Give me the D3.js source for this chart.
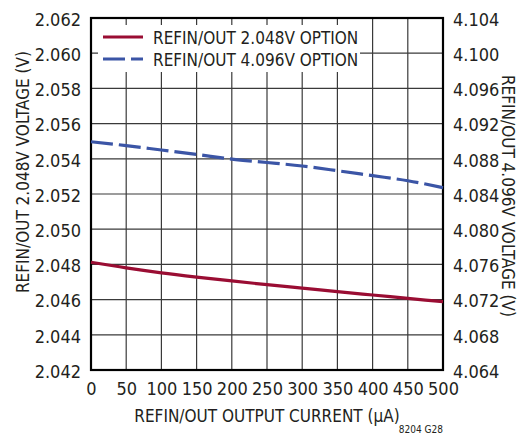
<!DOCTYPE html>
<html>
<head>
<meta charset="utf-8">
<script src="https://cdn.jsdelivr.net/npm/d3@7"></script>
<style>
  body { margin: 0; background: #fff; }
  text { font-family: "Liberation Sans Narrow", "DejaVu Sans Condensed", sans-serif; fill: #231f20; }
</style>
</head>
<body>
<div id="chart"></div>
<script>
// output current (uA)
const current = [0, 50, 100, 150, 200, 250, 300, 350, 400, 450, 500];
// REFIN/OUT 2.048V option (left axis)
const ref2048 = [2.04812, 2.04780, 2.04752, 2.04728, 2.04706, 2.04685, 2.04665, 2.04645, 2.04626, 2.04607, 2.04588];
// REFIN/OUT 4.096V option (right axis)
const ref4096 = [4.08994, 4.08950, 4.08900, 4.08850, 4.08796, 4.08758, 4.08718, 4.08665, 4.08608, 4.08551, 4.08472];

const xTicks = [0, 50, 100, 150, 200, 250, 300, 350, 400, 450, 500];
const leftTicks = [2.042, 2.044, 2.046, 2.048, 2.050, 2.052, 2.054, 2.056, 2.058, 2.060, 2.062];
const rightTicks = [4.064, 4.068, 4.072, 4.076, 4.080, 4.084, 4.088, 4.092, 4.096, 4.100, 4.104];

const W = 521, H = 436;
const margin = { top: 18, right: 78, bottom: 66, left: 91 };
const width = W - margin.left - margin.right;
const height = H - margin.top - margin.bottom;

const svg = d3.select('#chart').append('svg')
  .attr('width', W)
  .attr('height', H);

const g = svg.append('g')
  .attr('transform', `translate(${margin.left},${margin.top})`);

const x = d3.scaleLinear().domain([0, 500]).range([0, width]);
const yL = d3.scaleLinear().domain([2.042, 2.062]).range([height, 0]);
const yR = d3.scaleLinear().domain([4.064, 4.104]).range([height, 0]);

// grid
g.append('g')
  .selectAll('line.v')
  .data(xTicks.slice(1, -1))
  .enter().append('line')
  .attr('x1', d => x(d)).attr('x2', d => x(d))
  .attr('y1', 0).attr('y2', height)
  .attr('stroke', '#3a3a3a').attr('stroke-width', 1.2);

g.append('g')
  .selectAll('line.h')
  .data(leftTicks.slice(1, -1))
  .enter().append('line')
  .attr('x1', 0).attr('x2', width)
  .attr('y1', d => yL(d)).attr('y2', d => yL(d))
  .attr('stroke', '#3a3a3a').attr('stroke-width', 1.2);

// legend background hides the grid, leaving the border ticks
g.append('rect')
  .attr('x', 7).attr('y', 7)
  .attr('width', 262).attr('height', 47)
  .attr('fill', '#fff');

// axes
const axisFont = '18px';
const bottomAxis = g.append('g')
  .attr('transform', `translate(0,${height})`)
  .call(d3.axisBottom(x).tickValues(xTicks).tickSize(0).tickPadding(12));
bottomAxis.select('.domain').remove();
bottomAxis.selectAll('text').style('font-size', axisFont).attr('fill', '#231f20');

const leftAxis = g.append('g')
  .call(d3.axisLeft(yL).tickValues(leftTicks).tickFormat(d3.format('.3f')).tickSize(0).tickPadding(10));
leftAxis.select('.domain').remove();
leftAxis.selectAll('text').style('font-size', axisFont).attr('fill', '#231f20').attr('dy', '0.4em');

const rightAxis = g.append('g')
  .attr('transform', `translate(${width},0)`)
  .call(d3.axisRight(yR).tickValues(rightTicks).tickFormat(d3.format('.3f')).tickSize(0).tickPadding(10));
rightAxis.select('.domain').remove();
rightAxis.selectAll('text').style('font-size', axisFont).attr('fill', '#231f20').attr('dy', '0.4em');

// frame
g.append('rect')
  .attr('width', width).attr('height', height)
  .attr('fill', 'none')
  .attr('stroke', '#000').attr('stroke-width', 2.2);

// curves
const lineL = d3.line()
  .x((d, i) => x(current[i]))
  .y(d => yL(d))
  .curve(d3.curveMonotoneX);
const lineR = d3.line()
  .x((d, i) => x(current[i]))
  .y(d => yR(d))
  .curve(d3.curveMonotoneX);

g.append('path')
  .datum(ref4096)
  .attr('d', lineR)
  .attr('fill', 'none')
  .attr('stroke', '#3b55a6')
  .attr('stroke-width', 3.2)
  .attr('stroke-dasharray', '22,6');

g.append('path')
  .datum(ref2048)
  .attr('d', lineL)
  .attr('fill', 'none')
  .attr('stroke', '#9a0d33')
  .attr('stroke-width', 3.2);

// legend
const legend = [
  { label: 'REFIN/OUT 2.048V OPTION', color: '#9a0d33', dash: null },
  { label: 'REFIN/OUT 4.096V OPTION', color: '#3b55a6', dash: '22,6' }
];
legend.forEach((l, i) => {
  const ly = 19 + i * 22;
  g.append('line')
    .attr('x1', 12).attr('x2', 52)
    .attr('y1', ly).attr('y2', ly)
    .attr('stroke', l.color).attr('stroke-width', 3.2)
    .attr('stroke-dasharray', l.dash);
  g.append('text')
    .attr('x', 62).attr('y', ly + 7)
    .style('font-size', '17px')
    .text(l.label);
});

// axis titles
svg.append('text')
  .attr('x', margin.left + width / 2).attr('y', 422)
  .attr('text-anchor', 'middle')
  .style('font-size', '17px')
  .text('REFIN/OUT OUTPUT CURRENT (μA)');

svg.append('text')
  .attr('transform', 'translate(29,172) rotate(-90)')
  .attr('text-anchor', 'middle')
  .style('font-size', '17px')
  .text('REFIN/OUT 2.048V VOLTAGE (V)');

svg.append('text')
  .attr('transform', 'translate(502,196) rotate(90)')
  .attr('text-anchor', 'middle')
  .style('font-size', '17px')
  .text('REFIN/OUT 4.096V VOLTAGE (V)');

svg.append('text')
  .attr('x', 443).attr('y', 433)
  .attr('text-anchor', 'end')
  .style('font-size', '10px')
  .text('8204 G28');
</script>
</body>
</html>
